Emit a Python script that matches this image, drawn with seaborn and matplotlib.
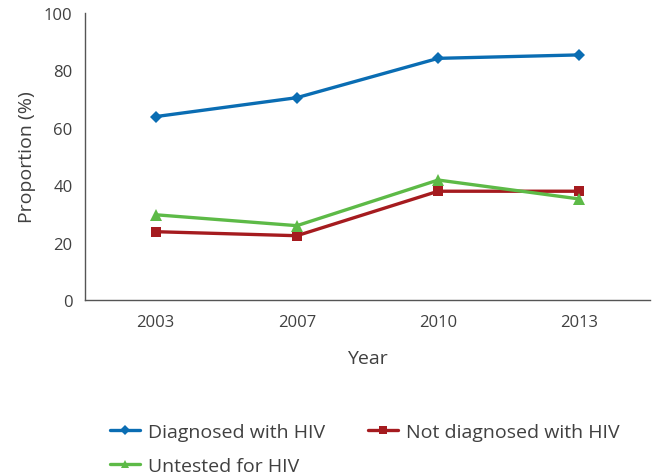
import pandas as pd
import matplotlib.pyplot as plt
import seaborn as sns

# Data
years = ['2003', '2007', '2010', '2013']
diagnosed = [63.9, 70.5, 84.2, 85.4]
not_diagnosed = [23.8, 22.4, 37.9, 37.9]
untested = [29.7, 25.9, 41.8, 35.2]
series_names = ['Diagnosed with HIV', 'Not diagnosed with HIV', 'Untested for HIV']

# Long format table for seaborn
rows = []
for name, vals in zip(series_names, [diagnosed, not_diagnosed, untested]):
    for i, v in enumerate(vals):
        rows.append({'pos': i, 'Year': years[i], 'value': v, 'series': name})
df = pd.DataFrame(rows)

sns.set_style('white')
plt.rcParams['font.family'] = ['Open Sans', 'DejaVu Sans']
text_col = '#404040'

colors = {'Diagnosed with HIV': '#0a6db3',
          'Not diagnosed with HIV': '#a51b1f',
          'Untested for HIV': '#5dba47'}
markers = {'Diagnosed with HIV': 'D',
           'Not diagnosed with HIV': 's',
           'Untested for HIV': '^'}
sizes = {'Diagnosed with HIV': 6.5,
         'Not diagnosed with HIV': 7.5,
         'Untested for HIV': 8}

fig = plt.figure(figsize=(6.6, 4.77), dpi=100)
ax = fig.add_axes([85 / 660, 1 - 301 / 477, (650 - 85) / 660, (301 - 14) / 477])

for name in series_names:
    sns.lineplot(data=df[df['series'] == name], x='pos', y='value', ax=ax,
                 color=colors[name], marker=markers[name], markersize=sizes[name],
                 markeredgewidth=0, linewidth=2.4, label=name)

ax.set_xlim(-0.5, 3.5)
ax.set_ylim(0, 100)
ax.set_yticks(range(0, 101, 20))
ax.set_xticks(range(len(years)))
ax.set_xticklabels(years)
ax.set_xticks([i - 0.5 for i in range(len(years) + 1)], minor=True)
ax.tick_params(axis='x', which='major', length=0, pad=10, labelsize=12, labelcolor=text_col)
ax.tick_params(axis='x', which='minor', length=5, width=1, color='#555555', direction='out')
ax.tick_params(axis='y', length=5, width=1, color='#555555', direction='out',
               labelsize=12, labelcolor=text_col, pad=4)

for side in ['top', 'right']:
    ax.spines[side].set_visible(False)
for side in ['left', 'bottom']:
    ax.spines[side].set_color('#555555')
    ax.spines[side].set_linewidth(1)

ax.set_xlabel('Year', fontsize=14, color=text_col, labelpad=14)
ax.set_ylabel('Proportion (%)', fontsize=14, color=text_col, labelpad=6)

# legend filled row by row like the original: reorder for column-major fill
handles, labels = ax.get_legend_handles_labels()
ax.get_legend().remove()
order = [0, 2, 1]
fig.legend([handles[i] for i in order], [labels[i] for i in order], ncol=2,
           frameon=False, loc='upper left', bbox_to_anchor=(110 / 660, 1 - 424 / 477),
           borderpad=0, borderaxespad=0, fontsize=14, labelcolor=text_col,
           handlelength=1.55, handletextpad=0.4, columnspacing=2.2,
           labelspacing=0.8, markerscale=0.75)

fig.savefig('out.png', dpi=100)
